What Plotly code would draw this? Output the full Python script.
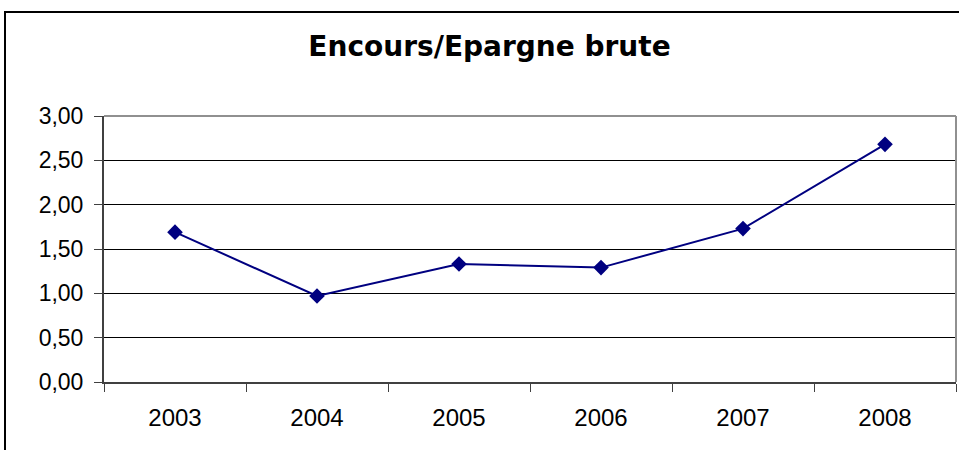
import plotly.graph_objects as go

years = ["2003", "2004", "2005", "2006", "2007", "2008"]
ratio = [1.69, 0.97, 1.33, 1.29, 1.73, 2.68]
y_ticks = [0, 0.5, 1.0, 1.5, 2.0, 2.5, 3.0]
title_text = "Encours/Epargne brute"

W, H = 959, 450
L, R, T, B = 104, 3, 116, 68
pw, ph = W - L - R, H - T - B

def px_x(p):
    return (p - L) / pw

def px_y(p):
    return (H - B - p) / ph

fig = go.Figure()
fig.add_trace(go.Scatter(
    x=years, y=ratio, mode="lines+markers",
    line=dict(color="#000080", width=2),
    marker=dict(symbol="diamond", size=12, color="#000080"),
    showlegend=False, cliponaxis=False,
))

fig.update_layout(
    width=W, height=H,
    margin=dict(l=L, r=R, t=T, b=B),
    paper_bgcolor="white", plot_bgcolor="white",
    separators=", ",
    title=dict(text="<b>" + title_text + "</b>", x=489.5 / W, xanchor="center",
               y=1 - 46 / H, yanchor="middle",
               font=dict(family="DejaVu Sans", size=28, color="black")),
    xaxis=dict(
        type="category", tickson="boundaries", range=[-0.5, 5.5],
        showgrid=False, showline=True, linecolor="#404040", linewidth=2,
        ticks="outside", ticklen=8, tickcolor="#404040", tickwidth=1,
        ticklabelstandoff=13,
        tickfont=dict(family="Liberation Sans", size=24, color="black"),
    ),
    yaxis=dict(
        range=[0, 3], tickvals=y_ticks, tickformat=".2f",
        showgrid=True, gridcolor="black", gridwidth=1,
        showline=True, linecolor="#404040", linewidth=2,
        ticks="outside", ticklen=8, tickcolor="#404040", tickwidth=1,
        ticklabelstandoff=6,
        tickfont=dict(family="Liberation Sans", size=23, color="black"),
        zeroline=False,
    ),
    shapes=[
        dict(type="line", xref="paper", yref="paper", x0=0, x1=1, y0=1, y1=1,
             line=dict(color="#909090", width=2), layer="above"),
        dict(type="line", xref="paper", yref="paper", x0=1, x1=1, y0=0, y1=1,
             line=dict(color="#909090", width=2), layer="above"),
        dict(type="rect", xref="paper", yref="paper",
             x0=px_x(5), x1=px_x(965), y0=px_y(470), y1=px_y(12),
             line=dict(color="black", width=2), layer="below"),
    ],
)

fig.write_html("out.html", config={"displayModeBar": False},
               post_script="document.body.style.margin='0';document.body.style.overflow='hidden';")
